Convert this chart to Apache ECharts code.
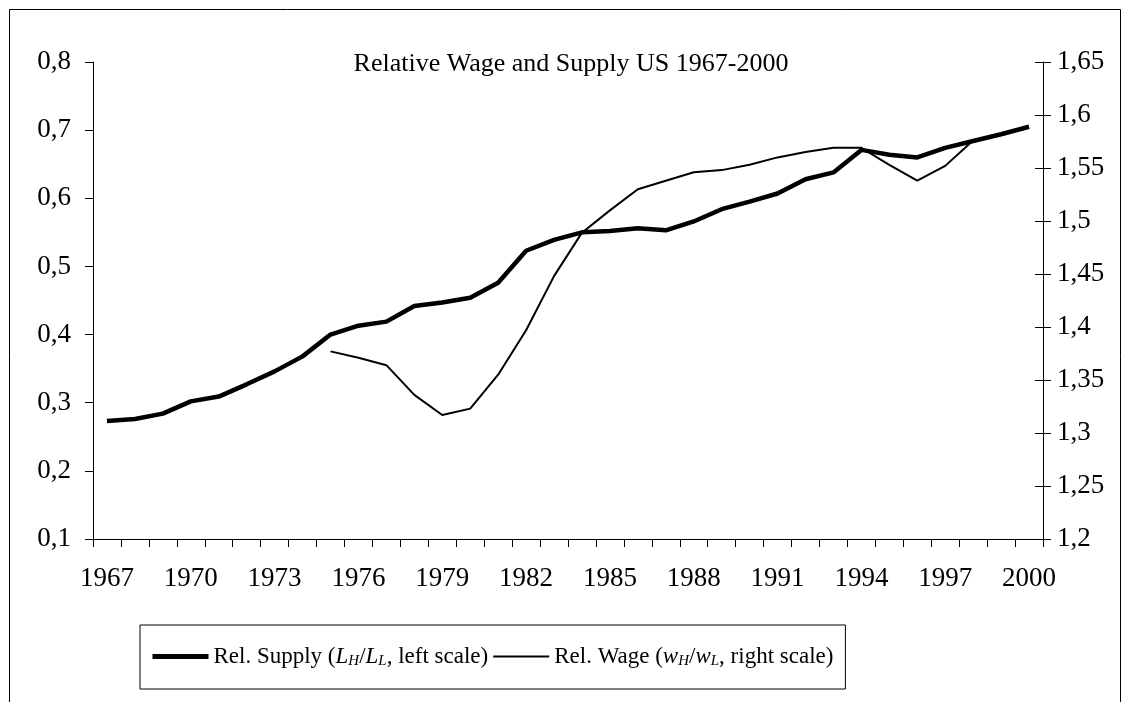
<!DOCTYPE html>
<html>
<head>
<meta charset="utf-8">
<script src="https://cdn.jsdelivr.net/npm/echarts@6/dist/echarts.min.js"></script>
<style>
html,body{margin:0;padding:0;background:#fff;}
#c{width:1130px;height:702px;}
</style>
</head>
<body>
<div id="c"></div>
<script>
var years = ['1967','1968','1969','1970','1971','1972','1973','1974','1975','1976','1977','1978','1979','1980','1981','1982','1983','1984','1985','1986','1987','1988','1989','1990','1991','1992','1993','1994','1995','1996','1997','1998','1999','2000'];
var relSupply = [0.273,0.276,0.284,0.302,0.309,0.327,0.346,0.368,0.400,0.413,0.419,0.442,0.447,0.454,0.476,0.523,0.539,0.550,0.552,0.556,0.553,0.566,0.584,0.595,0.607,0.628,0.638,0.671,0.664,0.660,0.674,0.684,0.694,0.705];
var relWage = [null,null,null,null,null,null,null,null,1.377,1.371,1.364,1.336,1.317,1.323,1.355,1.397,1.448,1.489,1.510,1.530,1.538,1.546,1.548,1.553,1.560,1.565,1.569,1.569,1.553,1.538,1.552,1.576,1.582,1.588];
var leftTicks = {min:0.1, max:0.8, step:0.1};
var rightTicks = {min:1.2, max:1.65, step:0.05};
var titleText = 'Relative Wage and Supply US 1967-2000';

var FONT = 'Liberation Serif, Times New Roman, serif';
function comma(v){ return String(Math.round(v*100)/100).replace('.', ','); }

var chart = echarts.init(document.getElementById('c'), null, {renderer:'canvas'});
chart.setOption({
  backgroundColor:'#fff',
  animation:false,
  textStyle:{fontFamily:FONT, color:'#000'},
  graphic:[
    {type:'rect', shape:{x:9.5,y:9.5,width:1111,height:720}, style:{fill:'none', stroke:'#000', lineWidth:1}, silent:true, z:-1},
    {type:'text', style:{text:titleText, x:571, y:64, textAlign:'center', textVerticalAlign:'middle', fontFamily:FONT, fontSize:26, fill:'#000'}}
  ],
  grid:{left:93, right:87, top:62, bottom:163, containLabel:false},
  legend:{
    orient:'horizontal',
    left:140, top:625,
    padding:[20,12,20,10],
    borderColor:'#000', borderWidth:1,
    itemWidth:56, itemHeight:10, itemGap:4,
    itemStyle:{opacity:0},
    textStyle:{fontFamily:FONT, fontSize:23, color:'#000',
      rich:{
        n:{fontFamily:FONT, fontSize:23, color:'#000'},
        it:{fontFamily:FONT, fontSize:23, fontStyle:'italic', color:'#000'},
        sub:{fontFamily:FONT, fontSize:15, fontStyle:'italic', color:'#000', verticalAlign:'bottom', padding:[10,0,0,0]}
      }},
    formatter:function(name){
      if(name==='supply') return '{n|Rel. Supply (}{it|L}{sub|H}{n|/}{it|L}{sub|L}{n|, left scale)}';
      return '{n|Rel. Wage (}{it|w}{sub|H}{n|/}{it|w}{sub|L}{n|, right scale)}';
    },
    data:[
      {name:'supply', itemStyle:{opacity:0}, lineStyle:{width:5, color:'#000'}},
      {name:'wage', itemStyle:{opacity:0}, lineStyle:{width:2, color:'#000'}}
    ]
  },
  xAxis:{
    type:'category', data:years, boundaryGap:true,
    axisLine:{lineStyle:{color:'#000', width:1}},
    axisTick:{show:true, interval:0, inside:false, length:8, lineStyle:{color:'#000'}},
    axisLabel:{interval:2, margin:26, fontFamily:FONT, fontSize:27, color:'#000'},
    splitLine:{show:false}
  },
  yAxis:[
    {type:'value', position:'left', min:leftTicks.min, max:leftTicks.max, interval:leftTicks.step,
     axisLine:{show:true, lineStyle:{color:'#000'}},
     axisTick:{show:true, inside:false, length:8, lineStyle:{color:'#000'}},
     axisLabel:{margin:22, fontFamily:FONT, fontSize:27, color:'#000', formatter:comma},
     splitLine:{show:false}},
    {type:'value', position:'right', min:rightTicks.min, max:rightTicks.max, interval:rightTicks.step,
     axisLine:{show:true, lineStyle:{color:'#000'}},
     axisTick:{show:true, inside:false, length:8, lineStyle:{color:'#000'}},
     axisLabel:{margin:14, fontFamily:FONT, fontSize:27, color:'#000', formatter:comma},
     splitLine:{show:false}},
    {type:'value', position:'right', min:rightTicks.min, max:rightTicks.max, interval:rightTicks.step,
     axisLine:{show:false},
     axisTick:{show:true, inside:true, length:8, lineStyle:{color:'#000'}},
     axisLabel:{show:false},
     splitLine:{show:false}}
  ],
  series:[
    {name:'supply', type:'line', yAxisIndex:0, data:relSupply, symbol:'none', showSymbol:false,
     lineStyle:{color:'#000', width:4.5}, itemStyle:{color:'#000'}, z:3},
    {name:'wage', type:'line', yAxisIndex:1, data:relWage, symbol:'none', showSymbol:false, connectNulls:false,
     lineStyle:{color:'#000', width:2}, itemStyle:{color:'#000'}, z:2}
  ]
});
</script>
</body>
</html>
